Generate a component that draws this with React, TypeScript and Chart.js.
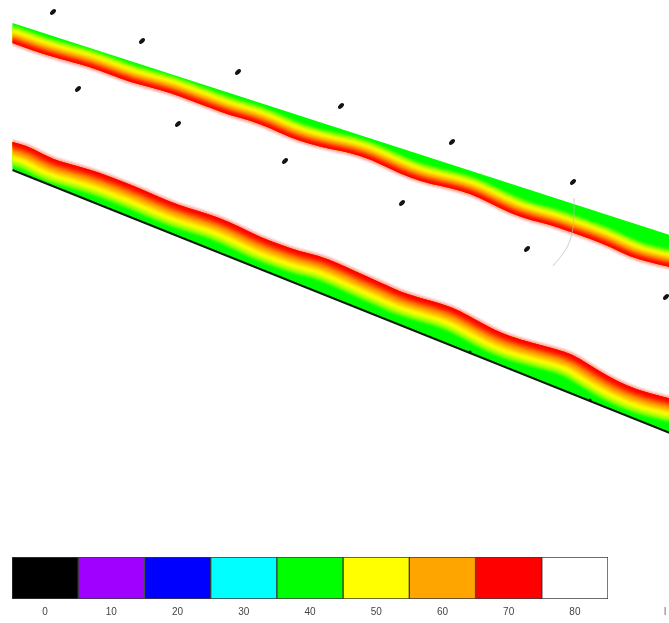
import React, { useEffect, useRef } from 'react';
import { Chart, registerables } from 'chart.js';

Chart.register(...registerables);

// Colour scale (level -> colour)
const SCALE_LEVELS = [0, 10, 20, 30, 40, 50, 60, 70, 80];
const SCALE_COLORS = ['#000000', '#a000ff', '#0000ff', '#00ffff', '#00ff00', '#ffff00', '#ffa500', '#ff0000', '#ffffff'];

// Upper wall line (x, y in mm; y grows downward)
const UPPER_WALL_X = [1.25, 67];
const UPPER_WALL_Y = [2.3, 23.5];
// Film on the upper wall: thickness along x
const UPPER_FILM_X = [1.25, 3.3, 5, 7, 9, 11, 13, 15, 17, 19, 21, 23, 25, 27, 29, 31, 33, 35, 37, 39, 41, 43, 45, 47, 49, 51, 53, 55, 57, 59, 61, 63, 65, 67];
const UPPER_FILM_T = [2.0, 2.1, 2.1, 2.0, 1.9, 2.0, 2.1, 2.0, 1.9, 2.0, 2.1, 2.2, 2.1, 2.2, 2.5, 2.5, 2.35, 2.1, 2.1, 2.4, 2.65, 2.6, 2.4, 2.3, 2.6, 2.95, 3.0, 2.85, 2.9, 2.95, 3.1, 3.45, 3.4, 3.2];

// Lower wall line
const LOWER_WALL_X = [1.25, 67];
const LOWER_WALL_Y = [17.0, 43.3];
// Film on the lower wall: thickness along x
const LOWER_FILM_X = [1.25, 2.7, 4, 5.3, 6.7, 8.3, 10, 12, 14, 16, 18, 20, 22, 24, 26, 28, 30, 32, 33.7, 35.3, 37, 38.7, 40, 42, 44.3, 46, 47.7, 49.3, 51, 53.3, 55.7, 57.3, 58.7, 60.7, 62.7, 64.7, 67];
const LOWER_FILM_T = [2.8, 3.0, 2.85, 2.7, 2.85, 3.05, 3.2, 3.25, 3.25, 3.15, 3.15, 3.35, 3.5, 3.4, 3.2, 3.25, 3.35, 3.7, 3.7, 3.6, 3.5, 3.45, 3.35, 3.5, 3.8, 3.8, 3.55, 3.3, 3.25, 3.5, 3.85, 3.95, 3.65, 3.2, 3.0, 3.1, 3.45];

// Particles in the channel
const PARTICLE_X = [5.3, 14.2, 23.8, 34.1, 45.2, 57.3, 7.8, 17.8, 28.5, 40.2, 52.7, 66.6];
const PARTICLE_Y = [1.2, 4.1, 7.2, 10.6, 14.2, 18.2, 8.9, 12.4, 16.1, 20.3, 24.9, 29.7];

// Deposits sitting on the lower wall
const DEPOSIT_X = [47.0, 59.0];
const DEPOSIT_Y = [35.2, 40.0];

// Probe trace
const PROBE_X = [57.4, 57.4, 57.2, 56.6, 55.3];
const PROBE_Y = [19.8, 21.5, 23.3, 24.9, 26.6];

// Colour layers inside a film, by depth from its free surface (fraction of mean thickness)
const FILM_LAYERS = [
  { depth: 0.68, color: '#80ff00' },
  { depth: 0.60, color: '#c0ff00' },
  { depth: 0.52, color: '#ffff00' },
  { depth: 0.42, color: '#ffd400' },
  { depth: 0.34, color: '#ffa500' },
  { depth: 0.25, color: '#ff7000' },
  { depth: 0.17, color: '#ff3000' },
  { depth: 0.10, color: '#ff0000' },
];

const FILMS = [
  { wallX: UPPER_WALL_X, wallY: UPPER_WALL_Y, filmX: UPPER_FILM_X, filmT: UPPER_FILM_T, side: 1 },
  { wallX: LOWER_WALL_X, wallY: LOWER_WALL_Y, filmX: LOWER_FILM_X, filmT: LOWER_FILM_T, side: -1 },
];

function wallAt(xs: number[], ys: number[], v: number) {
  const t = (v - xs[0]) / (xs[1] - xs[0]);
  return ys[0] + t * (ys[1] - ys[0]);
}

type P = { x: number; y: number };

// Smooth path through the points (midpoint quadratic curves)
function trace(ctx: CanvasRenderingContext2D, pts: P[], cont: boolean) {
  if (cont) ctx.lineTo(pts[0].x, pts[0].y);
  else ctx.moveTo(pts[0].x, pts[0].y);
  for (let i = 1; i < pts.length - 1; i++) {
    const mx = (pts[i].x + pts[i + 1].x) / 2;
    const my = (pts[i].y + pts[i + 1].y) / 2;
    ctx.quadraticCurveTo(pts[i].x, pts[i].y, mx, my);
  }
  const last = pts[pts.length - 1];
  ctx.lineTo(last.x, last.y);
}

const filmPlugin = {
  id: 'filmLayers',
  beforeDatasetsDraw(chart: any) {
    const { ctx, chartArea } = chart;
    const sx = chart.scales.x;
    const sy = chart.scales.y;
    const pxPerUnit = sy.getPixelForValue(1) - sy.getPixelForValue(0);
    FILMS.forEach((f) => {
      const edge: P[] = f.filmX.map((fx, i) => ({
        x: sx.getPixelForValue(fx),
        y: sy.getPixelForValue(wallAt(f.wallX, f.wallY, fx) + f.side * f.filmT[i]),
      }));
      const w0 = { x: sx.getPixelForValue(f.wallX[0]), y: sy.getPixelForValue(f.wallY[0]) };
      const w1 = { x: sx.getPixelForValue(f.wallX[1]), y: sy.getPixelForValue(f.wallY[1]) };
      const meanT = f.filmT.reduce((a, b) => a + b, 0) / f.filmT.length;
      const meanPx = meanT * pxPerUnit;

      // soft red fringe on the free surface
      ctx.save();
      ctx.beginPath();
      ctx.rect(w0.x, chartArea.top, chartArea.right - w0.x + 20, chartArea.bottom - chartArea.top);
      ctx.clip();
      ctx.filter = 'blur(1.3px)';
      ctx.lineJoin = 'round';
      ctx.lineCap = 'round';
      ctx.strokeStyle = 'rgba(255,30,30,0.4)';
      ctx.lineWidth = 4.5;
      ctx.beginPath();
      trace(ctx, edge, false);
      ctx.stroke();
      ctx.restore();

      // film body
      ctx.save();
      ctx.beginPath();
      ctx.moveTo(w0.x, w0.y);
      ctx.lineTo(w1.x, w1.y);
      trace(ctx, [...edge].reverse(), true);
      ctx.closePath();
      ctx.clip();
      ctx.fillStyle = '#00ff00';
      ctx.fillRect(0, 0, chart.width, chart.height);
      ctx.filter = 'blur(1.7px)';
      ctx.lineJoin = 'round';
      ctx.lineCap = 'round';
      FILM_LAYERS.forEach((l) => {
        ctx.strokeStyle = l.color;
        ctx.lineWidth = 2 * l.depth * meanPx;
        ctx.beginPath();
        trace(ctx, edge, false);
        ctx.stroke();
      });
      ctx.restore();
    });
  },
};

const unitPlugin = {
  id: 'scaleUnit',
  afterDraw(chart: any) {
    const { ctx } = chart;
    const sx = chart.scales.x;
    ctx.save();
    ctx.font = '10px "Liberation Sans", Arial, sans-serif';
    ctx.fillStyle = '#666';
    ctx.textBaseline = 'middle';
    ctx.fillText('l', chart.width - 5, sx.top + 7 + 6);
    ctx.restore();
  },
};

export default function App() {
  const mainRef = useRef<HTMLCanvasElement>(null);
  const barRef = useRef<HTMLCanvasElement>(null);

  useEffect(() => {
    const dot = document.createElement('canvas');
    dot.width = 10;
    dot.height = 10;
    const d = dot.getContext('2d')!;
    d.fillStyle = '#141414';
    d.beginPath();
    d.ellipse(5, 5, 3.5, 2.1, -0.75, 0, Math.PI * 2);
    d.fill();

    const main = new Chart(mainRef.current!, {
      type: 'scatter',
      data: {
        datasets: [
          {
            label: 'particles',
            data: PARTICLE_X.map((x, i) => ({ x, y: PARTICLE_Y[i] })),
            pointStyle: dot as any,
            pointRadius: 3,
            clip: false as any,
          },
          {
            label: 'deposits',
            data: DEPOSIT_X.map((x, i) => ({ x, y: DEPOSIT_Y[i] })),
            pointStyle: 'circle',
            pointRadius: 1.6,
            backgroundColor: '#111',
            borderWidth: 0,
          },
          {
            type: 'line',
            label: 'lower wall',
            data: LOWER_WALL_X.map((x, i) => ({ x, y: LOWER_WALL_Y[i] })),
            borderColor: '#0b1a0b',
            borderWidth: 2,
            pointRadius: 0,
            clip: false as any,
          },
          {
            type: 'line',
            label: 'probe',
            data: PROBE_X.map((x, i) => ({ x, y: PROBE_Y[i] })),
            borderColor: 'rgba(185,185,185,0.7)',
            borderWidth: 1,
            pointRadius: 0,
            tension: 0.4,
          },
        ],
      },
      options: {
        responsive: false,
        animation: false,
        layout: { padding: 0, autoPadding: false },
        plugins: { legend: { display: false }, tooltip: { enabled: false } },
        scales: {
          x: { type: 'linear', min: 0, max: 66.9, display: false },
          y: { type: 'linear', min: 0, max: 48, reverse: true, display: false },
        },
      },
      plugins: [filmPlugin],
    } as any);

    const bar = new Chart(barRef.current!, {
      type: 'bar',
      data: {
        labels: SCALE_LEVELS.map(String),
        datasets: [
          {
            data: SCALE_LEVELS.map(() => 1),
            backgroundColor: SCALE_COLORS,
            borderColor: '#3a3a3a',
            borderWidth: 1,
            borderSkipped: false,
            categoryPercentage: 1,
            barPercentage: 1,
          },
        ],
      },
      options: {
        responsive: false,
        animation: false,
        layout: { padding: { left: 12, right: 61, top: 7, bottom: 6 }, autoPadding: false },
        plugins: { legend: { display: false }, tooltip: { enabled: false } },
        scales: {
          x: {
            grid: { display: false, drawTicks: false },
            border: { display: false },
            ticks: {
              color: '#444',
              padding: 7,
              font: { family: '"Liberation Sans", Arial, sans-serif', size: 10 },
            },
          },
          y: { display: false, min: 0, max: 1 },
        },
      },
      plugins: [unitPlugin],
    } as any);

    return () => {
      main.destroy();
      bar.destroy();
    };
  }, []);

  return (
    <div style={{ position: 'absolute', left: 0, top: 0, width: 669, height: 623, background: '#fff', overflow: 'hidden' }}>
      <canvas ref={mainRef} width={669} height={480} style={{ position: 'absolute', left: 0, top: 0 }} />
      <canvas ref={barRef} width={669} height={81} style={{ position: 'absolute', left: 0, top: 550 }} />
    </div>
  );
}
